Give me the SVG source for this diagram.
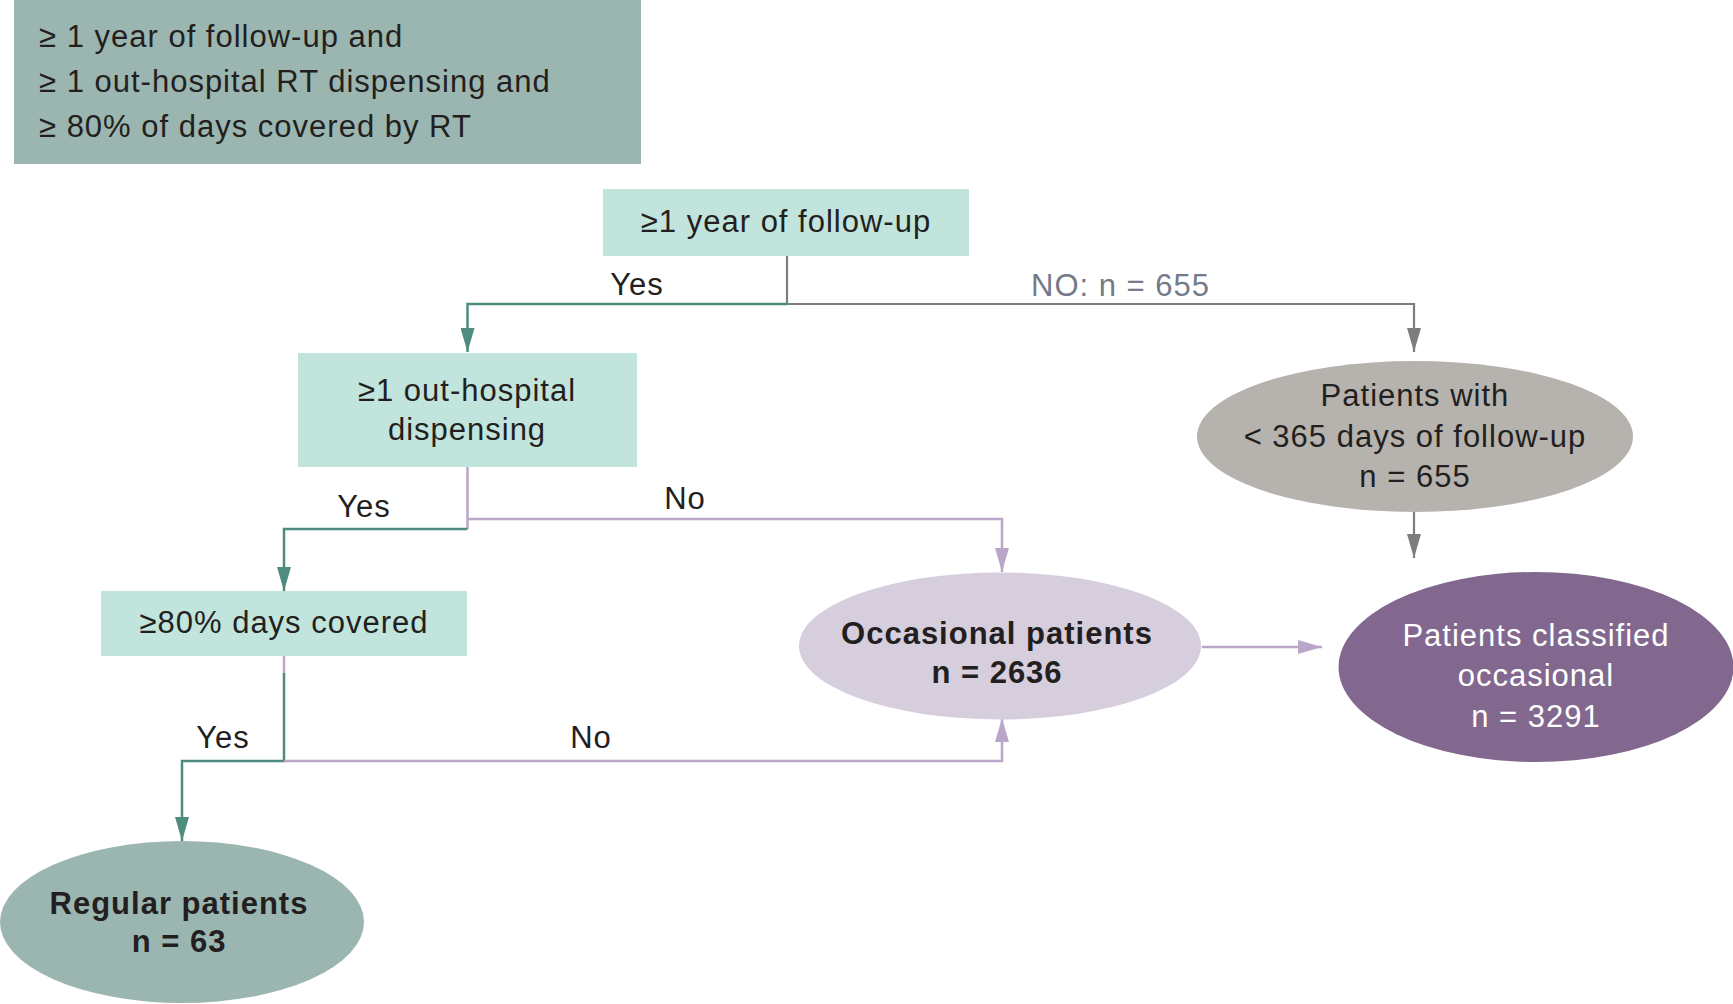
<svg xmlns="http://www.w3.org/2000/svg" width="1733" height="1004" viewBox="0 0 1733 1004">
<defs>
<style>
text{font-family:"Liberation Sans",Arial,sans-serif;font-size:31px;letter-spacing:1px;fill:#231f20}
.c{text-anchor:middle}
.b{font-weight:bold;letter-spacing:1px}
.w{fill:#ffffff}
.gt{fill:#737b8a}
.lg{fill:none;stroke:#4d8c7f;stroke-width:2.5}
.lp{fill:none;stroke:#b9a6c8;stroke-width:2.5}
.lk{fill:none;stroke:#7d7d7d;stroke-width:2.2}
</style>
<marker id="ag" markerUnits="userSpaceOnUse" markerWidth="24" markerHeight="14" viewBox="0 0 24 14" refX="24" refY="7" orient="auto"><path d="M0,0 L24,7 L0,14 Z" fill="#4d8c7f"/></marker>
<marker id="ap" markerUnits="userSpaceOnUse" markerWidth="24" markerHeight="14" viewBox="0 0 24 14" refX="24" refY="7" orient="auto"><path d="M0,0 L24,7 L0,14 Z" fill="#b9a6c8"/></marker>
<marker id="ak" markerUnits="userSpaceOnUse" markerWidth="24" markerHeight="14" viewBox="0 0 24 14" refX="24" refY="7" orient="auto"><path d="M0,0 L24,7 L0,14 Z" fill="#7d7d7d"/></marker>
</defs>
<rect width="1733" height="1004" fill="#ffffff"/>

<g id="legend">
<rect x="14" y="0" width="627" height="164" fill="#9bb6b0"/>
<text x="39" y="47">≥ 1 year of follow-up and</text>
<text x="39" y="92">≥ 1 out-hospital RT dispensing and</text>
<text x="39" y="137">≥ 80% of days covered by RT</text>
</g>

<g id="connectors">
<path class="lk" d="M787,256 V304 H1414 V352" marker-end="url(#ak)"/>
<path class="lg" d="M787,304 H467.5 V352" marker-end="url(#ag)"/>
<path class="lp" d="M467.5,467 V529"/>
<path class="lp" d="M467.5,519 H1002 V572" marker-end="url(#ap)"/>
<path class="lg" d="M467.5,529 H284 V591" marker-end="url(#ag)"/>
<path class="lp" d="M284,656 V673"/>
<path class="lg" d="M284,673 V761 H182 V841" marker-end="url(#ag)"/>
<path class="lp" d="M284,761 H1002 V718" marker-end="url(#ap)"/>
<path class="lk" d="M1414,512 V558" marker-end="url(#ak)"/>
<path class="lp" d="M1202,647 H1322" marker-end="url(#ap)"/>
<text class="c" x="637" y="295">Yes</text>
<text class="gt" x="1031" y="296">NO: n = 655</text>
<text class="c" x="364" y="517">Yes</text>
<text class="c" x="685" y="509">No</text>
<text class="c" x="223" y="748">Yes</text>
<text class="c" x="591" y="748">No</text>
</g>

<g id="followup">
<rect x="603" y="189" width="366" height="67" fill="#c1e4dc"/>
<text class="c" x="786" y="232">≥1 year of follow-up</text>
</g>

<g id="dispensing">
<rect x="298" y="353" width="339" height="114" fill="#c1e4dc"/>
<text class="c" x="467" y="401">≥1 out-hospital</text>
<text class="c" x="467" y="440">dispensing</text>
</g>

<g id="covered">
<rect x="101" y="591" width="366" height="65" fill="#c1e4dc"/>
<text class="c" x="284" y="633">≥80% days covered</text>
</g>

<g id="shortfollowup">
<ellipse cx="1415" cy="436.5" rx="218" ry="75.5" fill="#b6b3af"/>
<text class="c" x="1415" y="406">Patients with</text>
<text class="c" x="1415" y="447">&lt; 365 days of follow-up</text>
<text class="c" x="1415" y="487">n = 655</text>
</g>

<g id="occasional">
<ellipse cx="1000" cy="646" rx="201" ry="73.5" fill="#d6cddd"/>
<text class="c b" x="997" y="644">Occasional patients</text>
<text class="c b" x="997" y="683">n = 2636</text>
</g>

<g id="classified">
<ellipse cx="1536" cy="667" rx="197.5" ry="95" fill="#82688f"/>
<text class="c w" x="1536" y="646">Patients classified</text>
<text class="c w" x="1536" y="686">occasional</text>
<text class="c w" x="1536" y="727">n = 3291</text>
</g>

<g id="regular">
<ellipse cx="182" cy="922" rx="182" ry="81" fill="#9bb6b0"/>
<text class="c b" x="179" y="914">Regular patients</text>
<text class="c b" x="179" y="952">n = 63</text>
</g>
</svg>
